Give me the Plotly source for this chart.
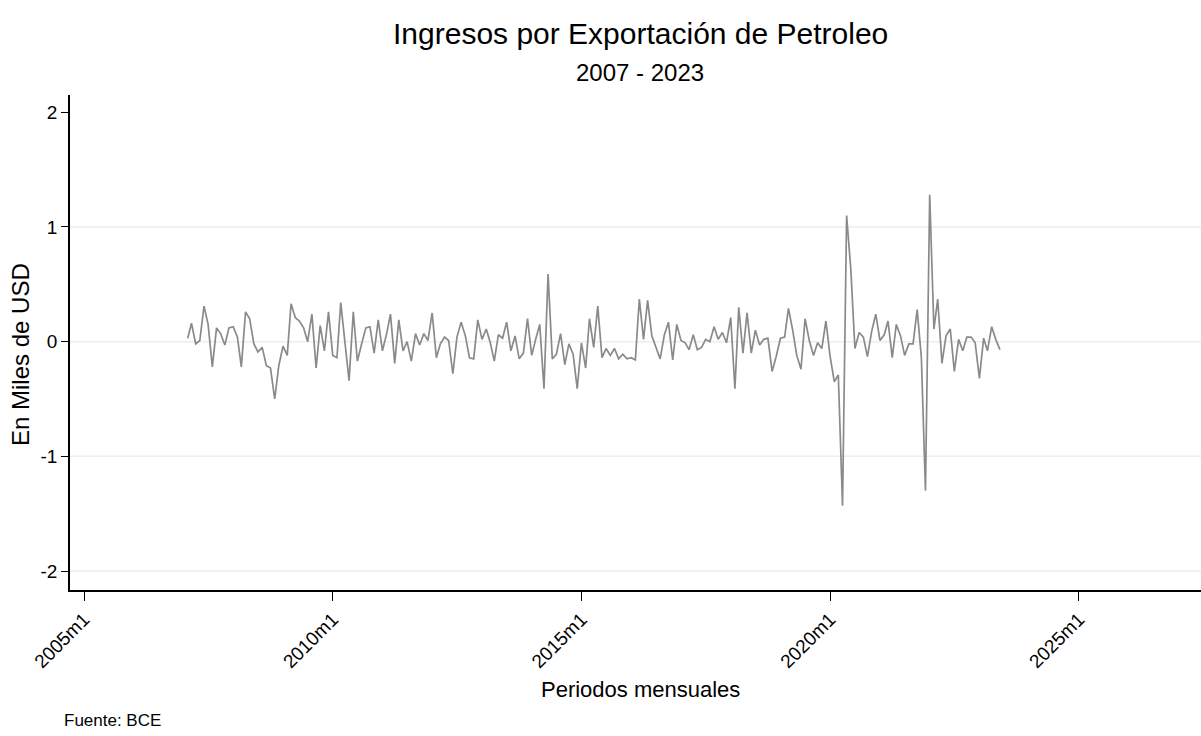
import pandas as pd
import plotly.graph_objects as go

TITLE = "Ingresos por Exportación de Petroleo"
SUBTITLE = "2007 - 2023"
Y_TITLE = "En Miles de USD"
X_TITLE = "Periodos mensuales"
SOURCE = "Fuente: BCE"

START_MONTH = "2007-02-01"
values = [
    0.03, 0.16, -0.02, 0.01, 0.31, 0.15, -0.22, 0.12, 0.07, -0.03, 0.12, 0.13,
    0.04, -0.22, 0.26, 0.20, -0.02, -0.09, -0.05, -0.21, -0.23, -0.50, -0.21, -0.04,
    -0.12, 0.33, 0.21, 0.18, 0.12, 0.00, 0.24, -0.23,
    0.14, -0.08, 0.26, -0.12, -0.14, 0.34, -0.01, -0.34, 0.26, -0.17, -0.02, 0.12,
    0.13, -0.10, 0.19, -0.08, 0.07, 0.24, -0.19, 0.19, -0.08, 0.00, -0.17, 0.07,
    -0.03, 0.07, 0.01, 0.25, -0.14, -0.02, 0.04, 0.01, -0.28,
    0.04, 0.17, 0.05, -0.14, -0.15, 0.19, 0.02, 0.11, 0.00, -0.17, 0.06, 0.03,
    0.17, -0.08, 0.05, -0.15, -0.10, 0.20, -0.12, 0.03, 0.15, -0.41, 0.59, -0.15,
    -0.11, 0.07, -0.20, -0.02, -0.11, -0.41, -0.01, -0.23,
    0.20, -0.05, 0.31, -0.14, -0.06, -0.12, -0.06, -0.15, -0.11, -0.15, -0.14, -0.16,
    0.37, 0.02, 0.36, 0.05, -0.04, -0.15, 0.06, 0.17, -0.16, 0.15, 0.01, -0.01,
    -0.07, 0.06, -0.07, -0.05, 0.02, 0.00, 0.13, 0.02, 0.08,
    -0.01, 0.21, -0.41, 0.30, -0.10, 0.25, -0.10, 0.10, -0.03, 0.02, 0.03, -0.26,
    -0.13, 0.03, 0.04, 0.29, 0.10, -0.12, -0.24, 0.20, 0.01, -0.12, -0.01, -0.06,
    0.18, -0.13, -0.35, -0.29, -1.43, 1.10, 0.63, -0.06,
    0.08, 0.04, -0.13, 0.09, 0.24, 0.01, 0.06, 0.18, -0.14, 0.15, 0.05, -0.12,
    -0.02, -0.02, 0.28, -0.14, -1.30, 1.28, 0.11, 0.37, -0.19, 0.05, 0.11, -0.26,
    0.02, -0.08, 0.04, 0.04, -0.01, -0.32, 0.03, -0.08, 0.13, 0.02, -0.07,
]

x_tick_dates = ["2005-01-01", "2010-01-01", "2015-01-01", "2020-01-01", "2025-01-01"]
x_tick_labels = ["2005m1", "2010m1", "2015m1", "2020m1", "2025m1"]
y_tick_vals = [-2, -1, 0, 1, 2]
y_tick_labels = ["-2", "-1", "0", "1", "2"]
grid_vals = [-2, -1, 0, 1]

dates = pd.date_range(START_MONTH, periods=len(values), freq="MS")

FONT = "Liberation Sans, Arial, sans-serif"

# plot area in pixels
L, R, T, B = 70, 0, 95, 146
W, H = 1201, 736
plot_w = W - L - R
plot_h = H - T - B


def px_x(px):
    return (px - L) / plot_w


def px_y(py):
    return (H - B - py) / plot_h


fig = go.Figure()
fig.add_trace(go.Scatter(
    x=dates, y=values, mode="lines",
    line=dict(color="#8a8a8a", width=1.7),
    showlegend=False, hoverinfo="x+y",
))

for g in grid_vals:
    fig.add_shape(type="line", xref="paper", x0=0, x1=1, yref="y", y0=g, y1=g,
                  line=dict(color="#e6eff1", width=1.5), layer="below")

fig.update_layout(
    width=W, height=H,
    margin=dict(l=L, r=R, t=T, b=B, autoexpand=False),
    paper_bgcolor="white", plot_bgcolor="white",
    font=dict(family=FONT, color="#000000"),
    xaxis=dict(
        range=["2004-09-20", "2027-06-16"],
        tickmode="array", tickvals=x_tick_dates, ticktext=x_tick_labels,
        tickangle=-45, ticks="outside", ticklen=9, tickwidth=1.2, tickcolor="#000",
        showline=True, linecolor="#000", linewidth=1.6,
        showgrid=False, zeroline=False,
        tickfont=dict(family=FONT, size=19, color="#000"),
    ),
    yaxis=dict(
        range=[-2.165, 2.15],
        tickmode="array", tickvals=y_tick_vals, ticktext=y_tick_labels,
        ticks="outside", ticklen=7, tickwidth=1.2, tickcolor="#000",
        showline=True, linecolor="#000", linewidth=1.6,
        showgrid=False, zeroline=False,
        tickfont=dict(family=FONT, size=19, color="#000"),
    ),
    annotations=[
        dict(text=TITLE, xref="paper", yref="paper", x=px_x(640), y=px_y(33),
             xanchor="center", yanchor="middle", showarrow=False,
             font=dict(family=FONT, size=30, color="#000")),
        dict(text=SUBTITLE, xref="paper", yref="paper", x=px_x(640), y=px_y(73),
             xanchor="center", yanchor="middle", showarrow=False,
             font=dict(family=FONT, size=24, color="#000")),
        dict(text=Y_TITLE, xref="paper", yref="paper", x=px_x(20), y=px_y(355),
             xanchor="center", yanchor="middle", textangle=-90, showarrow=False,
             font=dict(family=FONT, size=24, color="#000")),
        dict(text=X_TITLE, xref="paper", yref="paper", x=px_x(640), y=px_y(689),
             xanchor="center", yanchor="middle", showarrow=False,
             font=dict(family=FONT, size=22, color="#000")),
        dict(text=SOURCE, xref="paper", yref="paper", x=px_x(62), y=px_y(720),
             xanchor="left", yanchor="middle", showarrow=False,
             font=dict(family=FONT, size=17, color="#000")),
    ],
)

fig.write_html(
    "out.html",
    config={"displayModeBar": False},
    post_script="document.body.style.margin='0';document.body.style.overflow='hidden';",
)
